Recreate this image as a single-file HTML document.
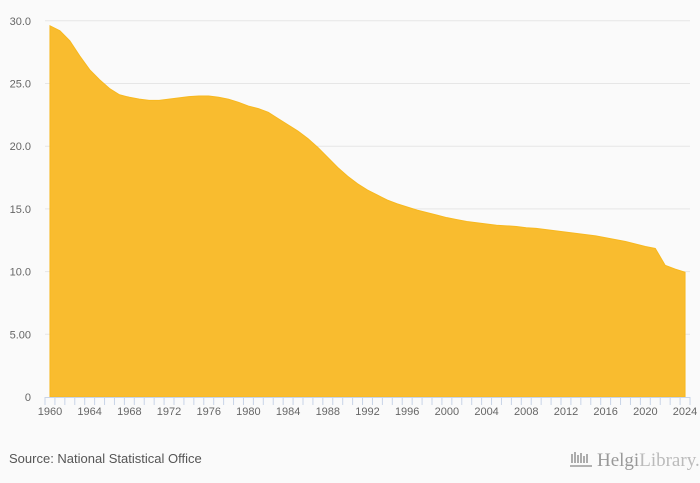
<!DOCTYPE html>
<html><head><meta charset="utf-8"><style>
body{margin:0;background:#fafafa;font-family:"Liberation Sans",sans-serif;}
svg{display:block}
</style></head><body>
<svg width="700" height="483" id="chart">
<rect width="700" height="483" fill="#fafafa"/>
<g id="grid"></g><g id="area"></g><g id="axis"></g>
<text x="9" y="463" font-size="13" fill="#555">Source: National Statistical Office</text>
<g>
<text x="597" y="466" font-size="19" fill="#999" font-family="Liberation Serif,serif">Helgi<tspan fill="#bbb">Library.</tspan></text>
<path d="M570 466 h22 M572 463 v-9 M575 463 v-11 M578 463 v-8 M581 463 v-10 M584 463 v-7 M587 463 v-9" stroke="#999" stroke-width="1.6" fill="none"/>
</g>
</svg>
<script>
const years=[];for(let y=1960;y<=2024;y++)years.push(y);
const values=[29.6,29.2,28.4,27.2,26.1,25.3,24.6,24.1,23.9,23.75,23.65,23.65,23.75,23.85,23.95,24.0,24.0,23.9,23.75,23.5,23.2,23.0,22.7,22.2,21.7,21.2,20.6,19.9,19.1,18.3,17.6,17.0,16.5,16.1,15.7,15.4,15.15,14.9,14.7,14.5,14.3,14.15,14.0,13.9,13.8,13.7,13.65,13.6,13.5,13.45,13.35,13.25,13.15,13.05,12.95,12.85,12.7,12.55,12.4,12.2,12.0,11.85,10.5,10.2,9.95];
const yTicks=[0,5,10,15,20,25,30];
const yTickLabels=["0","5.00","10.0","15.0","20.0","25.0","30.0"];
const NS="http://www.w3.org/2000/svg";
const x0=45,x1=690,yb=397,ppu=12.54;
const step=(x1-x0)/years.length;
const X=i=>x0+step*(i+0.5);
const Y=v=>yb-v*ppu;
function el(t,a,p){const e=document.createElementNS(NS,t);for(const k in a)e.setAttribute(k,a[k]);p.appendChild(e);return e;}
const grid=document.getElementById('grid'),axis=document.getElementById('axis'),area=document.getElementById('area');
yTicks.forEach((v,i)=>{
 if(v>0){const l=el('line',{x1:x0,x2:x1,y1:Y(v),y2:Y(v),stroke:'#e6e6e6','stroke-width':1},grid);
 
 }
 const t=el('text',{x:31,y:Y(v)+4,'font-size':11,fill:'#666','text-anchor':'end'},axis);
 t.textContent=yTickLabels[i];
 
 
});
let d=`M${X(0)},${yb}`;
values.forEach((v,i)=>{d+=` L${X(i)},${Y(v)}`;});
d+=` L${X(values.length-1)},${yb} Z`;
const p=el('path',{d:d,fill:'#f9bc2f',stroke:'#f7b81f','stroke-width':1},area);


const ax=el('line',{x1:x0,x2:x1,y1:yb+0.5,y2:yb+0.5,stroke:'#c8d4e8','stroke-width':1},axis);


for(let i=0;i<=years.length;i++){
 const tk=el('line',{x1:x0+step*i,x2:x0+step*i,y1:yb,y2:yb+8,stroke:'#c8d4e8','stroke-width':1},axis);
 
 
}
years.forEach((y,i)=>{
 if((y-1960)%4)return;
 const t=el('text',{x:X(i),y:yb+18,'font-size':11,fill:'#666','text-anchor':'middle'},axis);
 t.textContent=y;
 
 
});
</script>
</body></html>
